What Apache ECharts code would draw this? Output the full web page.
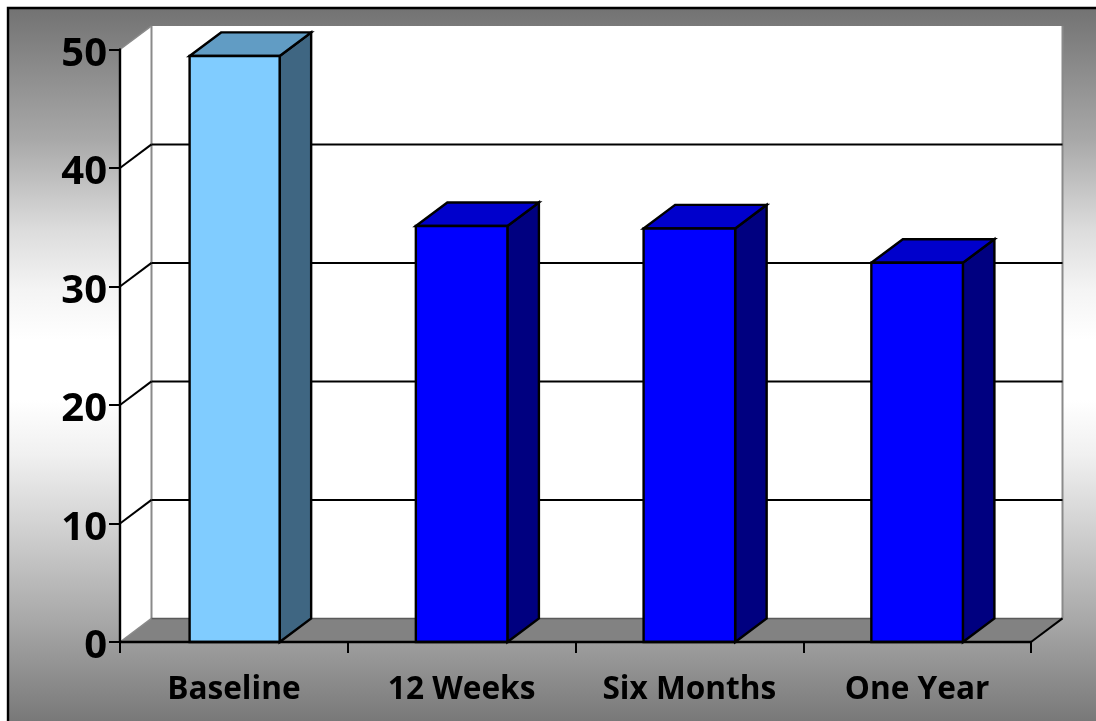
<!DOCTYPE html>
<html><head><meta charset="utf-8">
<style>html,body{margin:0;padding:0;background:#fff;overflow:hidden}#c{width:1096px;height:721px}</style>
<script src="https://cdn.jsdelivr.net/npm/echarts@6/dist/echarts.min.js"></script>
</head><body><div id="c"></div>
<script>
const categories = ['Baseline', '12 Weeks', 'Six Months', 'One Year'];
const values = [49.45, 35.1, 34.9, 32.0];
const yTicks = [0, 10, 20, 30, 40, 50];
const frontColors = ['#80CCFF', '#0000FF', '#0000FF', '#0000FF'];
const topColors = ['#619CC4', '#0000CC', '#0000CC', '#0000CC'];
const sideColors = ['#3F6682', '#000080', '#000080', '#000080'];
const DX = 31.5, DY = -23.6;

const chart = echarts.init(document.getElementById('c'), null, {renderer: 'canvas'});

function renderWalls(params, api) {
  const cs = params.coordSys;
  const l = cs.x, r = cs.x + cs.width, t = cs.y, b = cs.y + cs.height;
  const kids = [];
  const poly = (pts, fill, z2) => ({type: 'polygon', z2: z2 || 0, shape: {points: pts}, style: {fill: fill}, silent: true});
  const line = (x1, y1, x2, y2, color, w, z2) => ({type: 'line', z2: z2 || 1, shape: {x1, y1, x2, y2}, style: {stroke: color, lineWidth: w}, silent: true});
  kids.push(poly([[l + DX, t + DY], [r + DX, t + DY], [r + DX, b + DY], [l + DX, b + DY]], '#ffffff'));
  kids.push(poly([[l, t], [l + DX, t + DY], [l + DX, b + DY], [l, b]], '#ffffff'));
  kids.push(poly([[l, b], [l + DX, b + DY], [r + DX, b + DY], [r, b]], '#828282'));
  kids.push(line(l + DX, t + DY, l + DX, b + DY, '#8a8a8a', 2));
  kids.push(line(r + DX, t + DY, r + DX, b + DY, '#8a8a8a', 2));
  kids.push(line(l, t, l + DX, t + DY, '#8a8a8a', 1.5));
  kids.push(line(l, b, l + DX, b + DY, '#8a8a8a', 1.5));
  kids.push(line(l + DX, b + DY, r + DX, b + DY, '#5a5a5a', 1.5));
  kids.push(line(r, b, r + DX, b + DY, '#000', 2, 2));
  yTicks.forEach(v => {
    if (v === 0 || v === 50) return;
    const y = api.coord([0, v])[1];
    kids.push(line(l, y, l + DX, y + DY, '#000', 2, 2));
    kids.push(line(l + DX, y + DY, r + DX, y + DY, '#000', 2, 2));
  });
  return {type: 'group', children: kids};
}

function renderBar(params, api) {
  const i = api.value(0);
  const p = api.coord([i, api.value(1)]);
  const base = api.coord([i, 0]);
  const w = api.size([1, 0])[0] * 0.402;
  const x0 = p[0] - w / 2 + (i === 0 ? 1.5 : 0), x1 = p[0] + w / 2, yt = p[1], yb = base[1];
  const st = (f) => ({fill: f, stroke: '#000', lineWidth: 2.4, lineJoin: 'miter'});
  return {type: 'group', children: [
    {type: 'polygon', shape: {points: [[x1, yt], [x1 + DX, yt + DY], [x1 + DX, yb + DY], [x1, yb]]}, style: st(sideColors[i])},
    {type: 'polygon', shape: {points: [[x0, yt], [x0 + DX, yt + DY], [x1 + DX, yt + DY], [x1, yt]]}, style: st(topColors[i])},
    {type: 'rect', shape: {x: x0, y: yt, width: x1 - x0, height: yb - yt}, style: st(frontColors[i])}
  ]};
}

const H = 730, Y0 = 8;
const stop = (y, color) => ({offset: (y - Y0) / H, color});

chart.setOption({
  animation: false,
  backgroundColor: 'transparent',
  graphic: {elements: [{
    type: 'rect', z: -10, silent: true,
    shape: {x: 8, y: Y0, width: 1100, height: H},
    style: {
      stroke: '#000', lineWidth: 2.4,
      fill: {type: 'linear', x: 0, y: 0, x2: 0, y2: 1, colorStops: [
        stop(8, '#727272'), stop(140, '#a8a8a8'), stop(230, '#dcdcdc'), stop(290, '#f4f4f4'),
        stop(340, '#ffffff'), stop(400, '#ffffff'), stop(455, '#f0f0f0'), stop(530, '#d0d0d0'),
        stop(620, '#a8a8a8'), stop(721, '#787878'), stop(738, '#727272')
      ]}
    }
  }]},
  grid: {left: 120, top: 49.5, width: 911, height: 592.5, containLabel: false},
  xAxis: {
    type: 'category', data: categories, z: 5,
    axisLine: {show: true, lineStyle: {color: '#000', width: 2.4}},
    axisTick: {show: true, alignWithLabel: false, length: 11, lineStyle: {color: '#000', width: 2}},
    axisLabel: {show: true, interval: 0, margin: 32, color: '#000', fontFamily: 'Open Sans', fontWeight: 'bold', fontSize: 31.6}
  },
  yAxis: {
    type: 'value', min: 0, max: 50, interval: 10, z: 5,
    splitLine: {show: false},
    axisLine: {show: true, lineStyle: {color: '#000', width: 2.4}},
    axisTick: {show: true, length: 11, lineStyle: {color: '#000', width: 2}},
    axisLabel: {show: true, margin: 13, verticalAlign: 'top', lineHeight: 10, color: '#000', fontFamily: 'Open Sans', fontWeight: 'bold', fontSize: 40}
  },
  series: [
    {type: 'custom', z: 1, silent: true, renderItem: renderWalls, data: [0], clip: false, encode: {x: 0}},
    {type: 'custom', z: 3, silent: true, renderItem: renderBar, clip: false,
     data: values.map((v, i) => [i, v]), encode: {x: 0, y: 1}}
  ]
});
</script></body></html>
